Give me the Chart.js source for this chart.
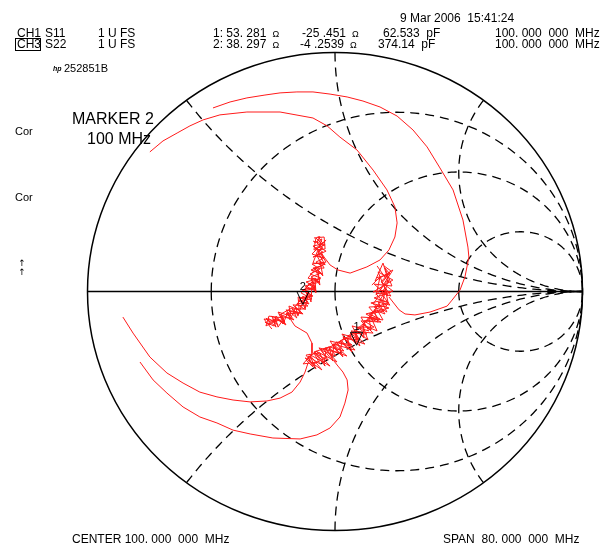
<!DOCTYPE html>
<html>
<head>
<meta charset="utf-8">
<script src="https://cdn.jsdelivr.net/npm/chart.js@4.4.0/dist/chart.umd.min.js"></script>
<style>
  html, body { margin: 0; padding: 0; background: #fff; }
  #wrap { position: relative; width: 614px; height: 544px; }
</style>
</head>
<body>
<div id="wrap"><canvas id="smith" width="614" height="544"></canvas></div>
<script>
// Smith chart graticule values (normalised to Z0)
const rCircles = [1 / 3, 1, 3];
const xArcs = [0.5, 1, 2];
const Z0 = 50;

// marker readouts (ohms)
const markerNames = ['1', '2'];
const markerRes = [53.281, 38.297];
const markerReact = [-25.451, -4.2539];

const outerArc = [[-0.493,0.768],[-0.424,0.793],[-0.356,0.810],[-0.283,0.822],[-0.222,0.831],[-0.154,0.835],[-0.089,0.835],[-0.020,0.826],[0.049,0.814],[0.113,0.797],[0.182,0.772],[0.251,0.734],[0.315,0.676],[0.372,0.605],[0.424,0.517],[0.477,0.425],[0.517,0.299],[0.537,0.186],[0.541,0.144],[0.525,0.061],[0.505,0.006],[0.473,-0.036],[0.453,-0.061],[0.384,-0.086],[0.323,-0.098],[0.283,-0.094],[0.259,-0.077],[0.234,-0.044],[0.218,-0.023]];
const innerArc = [[-0.748,0.584],[-0.695,0.630],[-0.638,0.663],[-0.586,0.693],[-0.533,0.718],[-0.465,0.739],[-0.356,0.751],[-0.222,0.751],[-0.089,0.726],[-0.032,0.693],[0.020,0.646],[0.089,0.592],[0.154,0.508],[0.210,0.425],[0.242,0.354],[0.251,0.287],[0.242,0.228],[0.218,0.174],[0.182,0.132],[0.129,0.103],[0.061,0.077],[0.012,0.090],[-0.020,0.111],[-0.044,0.144],[-0.057,0.165]];
const upperLowArc = [[-0.857,-0.107],[-0.816,-0.174],[-0.748,-0.274],[-0.679,-0.341],[-0.614,-0.383],[-0.546,-0.421],[-0.477,-0.441],[-0.412,-0.454],[-0.343,-0.462],[-0.275,-0.458],[-0.222,-0.446],[-0.174,-0.421],[-0.141,-0.379],[-0.121,-0.337],[-0.109,-0.299]];
const lowerLowArc = [[-0.788,-0.295],[-0.735,-0.370],[-0.679,-0.425],[-0.614,-0.483],[-0.546,-0.525],[-0.477,-0.550],[-0.412,-0.580],[-0.343,-0.596],[-0.251,-0.613],[-0.141,-0.617],[-0.073,-0.600],[-0.020,-0.571],[0.020,-0.525],[0.040,-0.467],[0.053,-0.412],[0.049,-0.370],[0.032,-0.337],[0.012,-0.312],[-0.004,-0.291]];
const bridge = [[-0.178,-0.119],[-0.162,-0.144],[-0.141,-0.157],[-0.113,-0.174],[-0.093,-0.216],[-0.093,-0.257],[-0.105,-0.295]];

// noisy sweeps around the two markers
const leftCluster = [[-0.085,0.224],[-0.044,0.228],[-0.040,0.178],[-0.085,0.174],[-0.077,0.224],[-0.053,0.199],[-0.089,0.190],[-0.049,0.165],
  [-0.081,0.149],[-0.044,0.140],[-0.077,0.123],[-0.053,0.107],[-0.089,0.098],[-0.057,0.077],[-0.097,0.061],[-0.069,0.044],[-0.109,0.031],[-0.081,0.015],[-0.125,0.002],[-0.093,-0.015],[-0.137,-0.027],[-0.109,-0.044],[-0.154,-0.052],[-0.125,-0.073],[-0.174,-0.073],[-0.146,-0.094],[-0.198,-0.090],[-0.174,-0.115],[-0.222,-0.103],[-0.202,-0.128],[-0.251,-0.115],[-0.230,-0.140],[-0.271,-0.111],[-0.263,-0.140],[-0.283,-0.128],
  [-0.247,-0.144],[-0.238,-0.103],[-0.210,-0.136],[-0.190,-0.086],[-0.182,-0.119],[-0.158,-0.065],[-0.150,-0.103],[-0.129,-0.040],[-0.121,-0.077],[-0.109,-0.002],[-0.097,-0.044],[-0.093,0.027],[-0.077,-0.006],[-0.081,0.057],[-0.061,0.027],[-0.069,0.090],[-0.049,0.065],[-0.061,0.128],[-0.040,0.111],[-0.069,0.165],[-0.049,0.182],[-0.073,0.203],[-0.061,0.232]];
const leftClusterB = [[-0.089,0.211],[-0.040,0.195],[-0.081,0.178],[-0.036,0.215],[-0.093,0.157],[-0.044,0.140],[-0.069,0.174],[-0.089,0.119],[-0.040,0.115],[-0.097,0.090],[-0.053,0.073],[-0.077,0.098],[-0.109,0.056],[-0.061,0.040],[-0.121,0.023],[-0.077,0.002],[-0.089,0.044],[-0.137,-0.006],[-0.093,-0.031],[-0.149,-0.040],[-0.105,-0.052],[-0.129,-0.019],[-0.162,-0.065],[-0.129,-0.094],[-0.186,-0.082],[-0.154,-0.111],[-0.174,-0.069],[-0.218,-0.094],[-0.202,-0.136],[-0.242,-0.107],[-0.230,-0.149],[-0.206,-0.111],[-0.267,-0.103],[-0.279,-0.144],[-0.238,-0.123],[-0.287,-0.115],[-0.255,-0.157]];
const leftClusterC = [[-0.085,0.203],[-0.053,0.220],[-0.065,0.186],[-0.036,0.169],[-0.089,0.144],[-0.057,0.157],[-0.036,0.123],[-0.093,0.115],[-0.061,0.094],[-0.101,0.073],[-0.057,0.056],[-0.117,0.040],[-0.077,0.019],[-0.133,0.006],[-0.089,-0.019],[-0.145,-0.031],[-0.109,-0.061],[-0.170,-0.056],[-0.133,-0.090],[-0.198,-0.077],[-0.166,-0.119],[-0.226,-0.094],[-0.198,-0.140],[-0.255,-0.103],[-0.238,-0.149],[-0.279,-0.111],[-0.263,-0.128],[-0.214,-0.119],[-0.230,-0.086],[-0.178,-0.103],[-0.186,-0.061],[-0.145,-0.077],[-0.149,-0.023],[-0.109,-0.031],[-0.121,0.015],[-0.081,0.006],[-0.097,0.056],[-0.061,0.048],[-0.081,0.098],[-0.044,0.098],[-0.073,0.149],[-0.048,0.199],[-0.069,0.232]];
const rightCluster = [[0.166,0.057],[0.222,0.073],[0.202,0.098],[0.230,0.023],[0.158,0.031],[0.214,-0.019],[0.174,0.082],[0.234,0.048],[0.154,-0.002],[0.206,0.006],
  [0.182,-0.036],[0.218,-0.048],[0.158,-0.065],[0.198,-0.082],[0.137,-0.094],[0.182,-0.115],[0.117,-0.123],[0.158,-0.149],[0.089,-0.149],[0.129,-0.178],[0.061,-0.174],[0.101,-0.203],[0.032,-0.195],[0.069,-0.224],[0.004,-0.211],[0.036,-0.249],[-0.024,-0.232],[0.004,-0.270],[-0.057,-0.245],[-0.028,-0.287],[-0.085,-0.257],[-0.061,-0.303],[-0.109,-0.270],[-0.089,-0.316],[-0.117,-0.287],
  [-0.081,-0.253],[-0.044,-0.299],[-0.036,-0.241],[-0.012,-0.278],[-0.004,-0.224],[0.020,-0.262],[0.028,-0.207],[0.053,-0.241],[0.053,-0.182],[0.085,-0.220],[0.085,-0.161],[0.117,-0.195],[0.113,-0.136],[0.146,-0.161],[0.137,-0.111],[0.174,-0.128],[0.158,-0.077],[0.202,-0.094],[0.174,-0.044],[0.222,-0.057],[0.186,-0.006],[0.226,-0.019],[0.190,0.036],[0.214,0.069]];
const rightClusterB = [[0.170,0.107],[0.218,0.036],[0.194,0.119],[0.162,0.044],[0.234,0.090],[0.182,0.006],[0.226,-0.002],[0.158,-0.027],[0.214,-0.044],[0.202,0.015],[0.154,-0.052],[0.210,-0.086],[0.186,-0.036],[0.141,-0.111],[0.194,-0.119],[0.166,-0.069],[0.113,-0.140],[0.170,-0.165],[0.145,-0.107],[0.085,-0.161],[0.133,-0.203],[0.113,-0.144],[0.053,-0.186],[0.101,-0.228],[0.081,-0.174],[0.020,-0.207],[0.069,-0.253],[0.048,-0.195],[-0.012,-0.224],[0.032,-0.274],[0.012,-0.220],[-0.048,-0.241],[-0.008,-0.291],[-0.024,-0.232],[-0.085,-0.253],[-0.040,-0.312],[-0.061,-0.257],[-0.117,-0.266],[-0.077,-0.324],[-0.101,-0.270],[-0.129,-0.303],[-0.069,-0.295]];
const rightClusterC = [[0.149,0.027],[0.182,0.061],[0.166,-0.015],[0.214,0.048],[0.194,-0.036],[0.145,-0.048],[0.218,-0.069],[0.125,-0.094],[0.186,-0.128],[0.105,-0.123],[0.154,-0.174],[0.065,-0.165],[0.121,-0.220],[0.032,-0.190],[0.081,-0.245],[-0.008,-0.220],[0.048,-0.270],[-0.040,-0.236],[0.008,-0.295],[-0.077,-0.249],[-0.020,-0.312],[-0.105,-0.262],[-0.053,-0.328],[-0.121,-0.278],[-0.085,-0.303],[-0.032,-0.274],[-0.065,-0.236],[0.012,-0.257],[-0.020,-0.207],[0.061,-0.228],[0.028,-0.178],[0.097,-0.199],[0.069,-0.144],[0.137,-0.165],[0.105,-0.107],[0.174,-0.111],[0.137,-0.065],[0.210,-0.061],[0.166,-0.010],[0.234,0.002],[0.186,0.040],[0.226,0.086],[0.198,0.107]];

const traces = [outerArc, innerArc, upperLowArc, lowerLowArc, bridge,
    leftCluster, leftClusterB, leftClusterC, rightCluster, rightClusterB, rightClusterC];

// header / footer texts: [text, x, baseline, size]
const labels = [
    ['9 Mar 2006  15:41:24', 400, 22, 12],
    ['CH1', 17, 37, 12], ['S11', 45, 37, 12], ['1 U FS', 98, 37, 12],
    ['CH3', 17, 48, 12], ['S22', 45, 48, 12], ['1 U FS', 98, 48, 12],
    ['62.533  pF', 383, 37, 12], ['100. 000  000  MHz', 495, 37, 12],
    ['374.14  pF', 378, 48, 12], ['100. 000  000  MHz', 495, 48, 12],
    ['252851B', 64, 72, 11],
    ['MARKER 2', 72, 124, 16], ['100 MHz', 87, 144, 16],
    ['Cor', 15, 135, 11], ['Cor', 15, 201, 11],
    ['CENTER 100. 000  000  MHz', 72, 543, 12],
    ['SPAN  80. 000  000  MHz', 443, 543, 12]
];
// values followed by an ohm sign
const ohmLabels = [
    ['1: 53. 281', 213, 37], ['-25 .451', 302, 37],
    ['2: 38. 297', 213, 48], ['-4 .2539', 300, 48]
];

const FONT = '"Liberation Sans", Arial, sans-serif';

const smithGrid = {
    id: 'smithGrid',
    beforeDatasetsDraw(chart) {
        const { ctx, scales: { x, y } } = chart;
        const px = u => x.getPixelForValue(u);
        const py = v => y.getPixelForValue(v);
        const path = pts => {
            ctx.beginPath();
            pts.forEach(([u, v], i) => i ? ctx.lineTo(px(u), py(v)) : ctx.moveTo(px(u), py(v)));
            ctx.stroke();
        };
        ctx.save();
        ctx.strokeStyle = '#000';
        ctx.lineWidth = 1.3;
        ctx.setLineDash([9, 6]);

        // resistance circles, dashes start on the real axis
        rCircles.forEach(r => {
            const c = r / (1 + r), rad = 1 / (1 + r);
            [[Math.PI, 0], [Math.PI, 2 * Math.PI]].forEach(([a0, a1]) => {
                const pts = [];
                for (let i = 0; i <= 160; i++) {
                    const a = a0 + (a1 - a0) * i / 160;
                    pts.push([c + rad * Math.cos(a), rad * Math.sin(a)]);
                }
                path(pts);
            });
        });

        // reactance arcs, dashes start on the rim
        xArcs.forEach(xv => {
            const cv = 1 / xv, rad = 1 / xv;
            const ur = (xv * xv - 1) / (xv * xv + 1), vr = 2 * xv / (xv * xv + 1);
            const a0 = Math.atan2(vr - cv, ur - 1);
            let a1 = Math.atan2(-cv, 0);
            if (a1 < a0) a1 += 2 * Math.PI;
            const pts = [];
            for (let i = 0; i <= 160; i++) {
                const a = a0 + (a1 - a0) * i / 160;
                pts.push([1 + rad * Math.cos(a), cv + rad * Math.sin(a)]);
            }
            path(pts);
            path(pts.map(([u, v]) => [u, -v]));
        });

        // outer rim and real axis
        ctx.setLineDash([]);
        ctx.lineWidth = 1.5;
        ctx.beginPath();
        ctx.ellipse(px(0), py(0), px(1) - px(0), py(0) - py(1), 0, 0, 2 * Math.PI);
        ctx.stroke();
        path([[-1, 0], [1, 0]]);
        ctx.restore();
    }
};

const markersAndText = {
    id: 'markersAndText',
    afterDatasetsDraw(chart) {
        const { ctx, scales: { x, y } } = chart;
        ctx.save();
        ctx.strokeStyle = '#000';
        ctx.fillStyle = '#000';
        ctx.lineWidth = 1;

        // markers: impedance -> reflection coefficient
        markerNames.forEach((name, i) => {
            const zr = markerRes[i] / Z0, zi = markerReact[i] / Z0;
            const nr = zr - 1, ni = zi, dr = zr + 1, di = zi;
            const den = dr * dr + di * di;
            const gr = (nr * dr + ni * di) / den, gi = (ni * dr - nr * di) / den;
            const mx = x.getPixelForValue(gr), my = y.getPixelForValue(gi);
            ctx.beginPath();
            ctx.moveTo(mx, my);
            ctx.lineTo(mx - 6, my - 13);
            ctx.lineTo(mx + 6, my - 13);
            ctx.closePath();
            ctx.stroke();
            ctx.font = '11px ' + FONT;
            ctx.textAlign = 'center';
            ctx.fillText(name, mx, my - 15);
        });

        ctx.textAlign = 'left';
        ctx.textBaseline = 'alphabetic';
        labels.forEach(([t, lx, ly, size]) => {
            ctx.font = size + 'px ' + FONT;
            ctx.fillText(t, lx, ly);
        });
        ohmLabels.forEach(([t, lx, ly]) => {
            ctx.font = '12px ' + FONT;
            ctx.fillText(t, lx, ly);
            const w = ctx.measureText(t).width;
            ctx.font = '9px ' + FONT;
            ctx.fillText('Ω', lx + w + 6, ly);
        });

        // boxed active channel
        ctx.strokeRect(15.5, 38.5, 25, 12);
        // hp logo
        ctx.font = 'italic bold 7px ' + FONT;
        ctx.fillText('hp', 53, 71);
        // small arrows on the left
        ctx.font = '9px "DejaVu Sans", sans-serif';
        ctx.textAlign = 'center';
        ctx.fillText('↑', 22, 266);
        ctx.fillText('↑', 22, 275);
        ctx.restore();
    }
};

const ctx = document.getElementById('smith').getContext('2d');
new Chart(ctx, {
    type: 'scatter',
    data: {
        datasets: traces.map(tr => ({
            data: tr.map(([u, v]) => ({ x: u, y: v })),
            showLine: true,
            borderColor: '#ff1a1a',
            borderWidth: 1,
            pointRadius: 0,
            tension: 0
        }))
    },
    options: {
        responsive: false,
        animation: false,
        layout: { padding: 0 },
        plugins: { legend: { display: false }, tooltip: { enabled: false } },
        scales: {
            x: { type: 'linear', display: false, min: -1.35354, max: 1.12727 },
            y: { type: 'linear', display: false, min: -1.05648, max: 1.21967 }
        }
    },
    plugins: [smithGrid, markersAndText]
});
</script>
</body>
</html>
